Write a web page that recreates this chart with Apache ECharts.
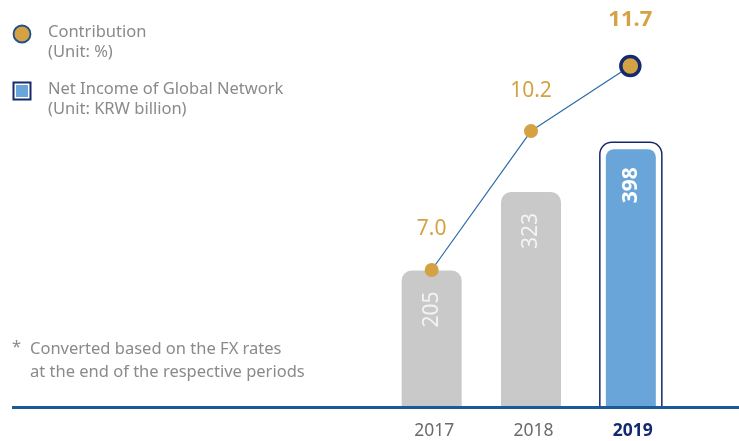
<!DOCTYPE html>
<html><head><meta charset="utf-8">
<script src="https://cdn.jsdelivr.net/npm/echarts@6/dist/echarts.min.js"></script>
<style>html,body{margin:0;padding:0;background:#fff}#c{width:739px;height:441px}</style>
</head><body><div id="c"></div>
<script>
const years = ['2017', '2018', '2019'];
const netIncome = [205, 323, 398];
const contribution = [7.0, 10.2, 11.7];
const highlightYear = '2019';

const FONT = '"Noto Sans", "Open Sans", sans-serif';
const GOLD = '#d4a243';
const NAVY = '#142a6e';
const BLUE = '#6aa5d9';
const GRAY_BAR = '#c9c9c9';
const TEXT = '#8a8a8a';

const hlIdx = years.indexOf(highlightYear);
const grayData = netIncome.map((v, i) => i === hlIdx ? '-' : v);
const hlData = netIncome.map((v, i) => i === hlIdx ? [i, v] : null).filter(d => d);

const chart = echarts.init(document.getElementById('c'), null, {renderer: 'canvas'});
chart.setOption({
  animation: false,
  textStyle: {fontFamily: FONT},
  grid: [
    {left: 382, right: 59, top: 41, bottom: 34},
    {left: 382, right: 59, top: 53, bottom: 171}
  ],
  xAxis: [
    {type: 'category', data: years, gridIndex: 0,
     axisLine: {show: false}, axisTick: {show: false},
     axisLabel: {interval: 0, hideOverlap: false, margin: 15, fontSize: 17.5, color: '#6b6b6b', fontFamily: FONT, padding: [0, 0, 0, 5],
       formatter: v => v === highlightYear ? '{hl|' + v + '}' : v,
       rich: {hl: {fontSize: 17.5, fontWeight: 'bold', color: NAVY, fontFamily: FONT}}}},
    {type: 'category', data: years, gridIndex: 1, show: false}
  ],
  yAxis: [
    {type: 'value', gridIndex: 0, min: 0, max: 550, show: false},
    {type: 'value', gridIndex: 1, min: 7, max: 12, show: false}
  ],
  graphic: [
    {type: 'line', z: 100, shape: {x1: 12, y1: 407.5, x2: 739, y2: 407.5}, style: {stroke: '#1c5a97', lineWidth: 3}},
    // legend
    {type: 'circle', shape: {cx: 22, cy: 34, r: 8.5}, style: {fill: GOLD, stroke: '#1c4f8f', lineWidth: 1.8}},
    {type: 'text', left: 48, top: 22, style: {text: 'Contribution\n(Unit: %)', fill: TEXT, font: '16.5px ' + FONT, lineHeight: 20}},
    {type: 'rect', shape: {x: 13.5, y: 82.5, width: 17, height: 17}, style: {fill: '#fff', stroke: NAVY, lineWidth: 2}},
    {type: 'rect', shape: {x: 16, y: 85, width: 12, height: 12}, style: {fill: BLUE}},
    {type: 'text', left: 48, top: 79, style: {text: 'Net Income of Global Network\n(Unit: KRW billion)', fill: TEXT, font: '16.5px ' + FONT, lineHeight: 20}},
    // footnote
    {type: 'text', left: 12, top: 339, style: {text: '*', fill: TEXT, font: '16.5px ' + FONT}},
    {type: 'text', left: 30, top: 338, style: {text: 'Converted based on the FX rates\nat the end of the respective periods', fill: TEXT, font: '16.5px ' + FONT, lineHeight: 23}}
  ],
  series: [
    {
      name: 'Net Income of Global Network', type: 'bar', xAxisIndex: 0, yAxisIndex: 0,
      data: grayData, barWidth: 60,
      itemStyle: {color: GRAY_BAR, borderRadius: [10, 10, 0, 0]},
      label: {show: true, position: 'insideTop', rotate: 90, align: 'right', verticalAlign: 'middle',
        distance: 21, fontSize: 21, color: '#f4f4f4', fontFamily: FONT}
    },
    {
      name: 'Highlight', type: 'custom', xAxisIndex: 0, yAxisIndex: 0,
      data: hlData,
      renderItem: function (params, api) {
        const top = api.coord([api.value(0), api.value(1)]);
        const base = api.coord([api.value(0), 0]);
        const h = base[1] - top[1];
        const cx = top[0] + 0.5;
        return {
          type: 'group',
          children: [
            {type: 'rect', shape: {x: cx - 31, y: top[1], width: 62, height: h, r: [12, 12, 0, 0]},
             style: {fill: '#fff', stroke: NAVY, lineWidth: 1.5}},
            {type: 'rect', shape: {x: cx - 25, y: top[1] + 7, width: 50, height: h - 7, r: [8, 8, 0, 0]},
             style: {fill: BLUE}},
            {type: 'text', x: cx, y: top[1] + 25, rotation: Math.PI / 2,
             style: {text: String(api.value(1)), fill: '#fff', font: 'bold 21px ' + FONT,
               align: 'right', verticalAlign: 'middle'}}
          ]
        };
      }
    },
    {
      name: 'Contribution', type: 'line', xAxisIndex: 1, yAxisIndex: 1,
      data: contribution.map((v, i) => i === hlIdx ? {
        value: v, symbolSize: 19,
        itemStyle: {color: GOLD, borderColor: NAVY, borderWidth: 3.5},
        label: {fontSize: 22, fontWeight: 'bold', distance: 24}
      } : v),
      clip: false, symbol: 'circle', symbolSize: 14,
      lineStyle: {color: '#2a6aa8', width: 1.2},
      itemStyle: {color: GOLD},
      label: {show: true, position: 'top', distance: 23, fontSize: 21, color: GOLD, fontFamily: FONT,
        formatter: p => Number(p.value).toFixed(1)},
      z: 10
    }
  ]
});
</script></body></html>
